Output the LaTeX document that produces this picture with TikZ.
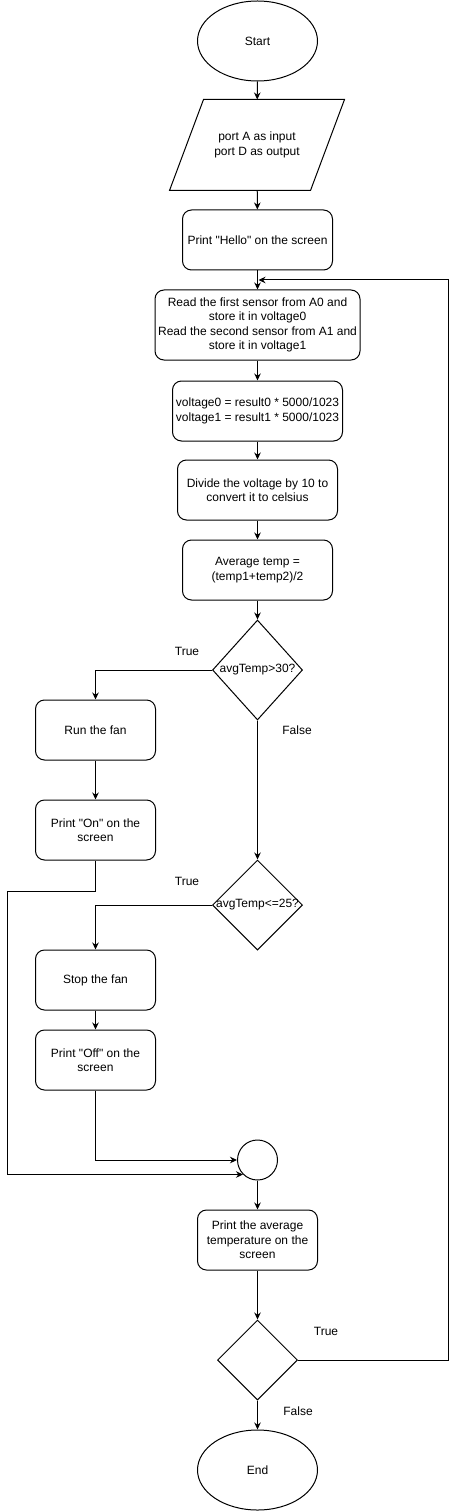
\documentclass[tikz,border=0pt]{standalone}
\usepackage{fontspec}
\setmainfont{Liberation Sans}
\usetikzlibrary{arrows.meta,shapes.geometric}
\definecolor{lineblack}{HTML}{000000}

\begin{document}
\begin{tikzpicture}[x=1pt, y=-1pt, >={Stealth[length=7pt,width=6.5pt]},
  line width=1pt, font=\fontsize{12}{14.4}\selectfont,
  flowline/.style={lineblack, ->},
  terminal/.style={draw=lineblack, ellipse, minimum width=120pt, minimum height=80pt, inner sep=0pt},
  iobox/.style={minimum width=174pt, minimum height=90pt, inner sep=0pt, align=center},
  procbox/.style={draw=lineblack, rounded corners=9pt, minimum height=60pt, inner sep=0pt, align=center},
  decbox/.style={draw=lineblack, diamond, inner sep=0pt},
  joinpt/.style={draw=lineblack, circle, minimum size=40pt, inner sep=0pt},
  branch/.style={inner sep=0pt}]
  \useasboundingbox (0,0) rectangle (456,1511);

  \node[terminal] (start) at (257.5,41) {Start};
  \node[iobox] (ports) at (257,145) {port A as input\\port D as output};
  \draw[lineblack] (ports.south west) -- ([xshift=34pt]ports.north west) -- (ports.north east)
    -- ([xshift=-34pt]ports.south east) -- cycle;
  \node[procbox, minimum width=150pt] (hello) at (257.5,240) {Print \textquotedbl Hello\textquotedbl{} on the screen};
  \node[procbox, minimum width=205pt, minimum height=70pt] (read) at (257.5,325)
    {Read the first sensor from A0 and\\store it in voltage0\\Read the second sensor from A1 and\\store it in voltage1};
  \node[procbox, minimum width=170pt] (volt) at (257.5,411)
    {voltage0 = result0 * 5000/1023\\voltage1 = result1 * 5000/1023};
  \node[procbox, minimum width=160pt] (divide) at (257.5,490) {Divide the voltage by 10 to\\convert it to celsius};
  \node[procbox, minimum width=150pt] (avg) at (257.5,570) {Average temp =\\(temp1+temp2)/2};
  \node[decbox, minimum width=90pt, minimum height=100pt, label=center:{avgTemp>30?}] (hot) at (257.5,670) {};
  \node[procbox, minimum width=120pt] (run) at (95.5,730) {Run the fan};
  \node[procbox, minimum width=120pt] (on) at (95.5,830) {Print \textquotedbl On\textquotedbl{} on the\\screen};
  \node[decbox, minimum width=90pt, minimum height=90pt, label=center:{avgTemp<=25?}] (cold) at (257.5,905) {};
  \node[procbox, minimum width=120pt] (stop) at (95.5,980) {Stop the fan};
  \node[procbox, minimum width=120pt] (off) at (95.5,1060) {Print \textquotedbl Off\textquotedbl{} on the\\screen};
  \node[joinpt] (join) at (257.5,1160) {};
  \node[procbox, minimum width=120pt] (show) at (257.5,1240) {Print the average\\temperature on the\\screen};
  \node[decbox, minimum width=80pt, minimum height=80pt] (again) at (257.5,1360) {};
  \node[terminal] (end) at (257.5,1470) {End};

  \node[branch] (hottrue) at (187,651) {True};
  \node[branch] (hotfalse) at (297,730) {False};
  \node[branch] (coldtrue) at (187,881) {True};
  \node[branch] (againtrue) at (326,1331) {True};
  \node[branch] (againfalse) at (298,1411) {False};

  \coordinate (leftrail) at (7.5,891);
  \coordinate (rightrail) at (448,280);
  \coordinate (loopin) at (258.5,280);

  \draw[flowline] (start) -- (ports);
  \draw[flowline] (ports) -- (hello);
  \draw[flowline] (hello) -- (read);
  \draw[flowline] (read) -- (volt);
  \draw[flowline] (volt) -- (divide);
  \draw[flowline] (divide) -- (avg);
  \draw[flowline] (avg) -- (hot);
  \draw[flowline] (hot.west) -| (run.north);
  \draw[flowline] (run) -- (on);
  \draw[flowline] (hot.south) -- (cold.north);
  \draw[flowline] (cold.west) -| (stop.north);
  \draw[flowline] (stop) -- (off);
  \draw[flowline] (off.south) |- (join.west);
  \draw[flowline] (on.south) |- (leftrail) |- (join.-135);
  \draw[flowline] (join) -- (show);
  \draw[flowline] (show) -- (again);
  \draw[flowline] (again.east) -| (rightrail) -- (loopin);
  \draw[flowline] (again) -- (end);
\end{tikzpicture}
\end{document}
